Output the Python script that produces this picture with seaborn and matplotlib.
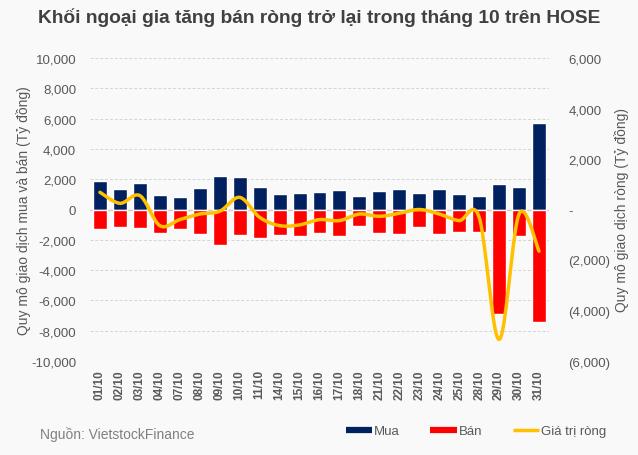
import numpy as np
import pandas as pd
import matplotlib
matplotlib.use("Agg")
import matplotlib.pyplot as plt
from matplotlib.lines import Line2D
from matplotlib.ticker import FuncFormatter
import seaborn as sns

# ngay giao dich thang 10
dates = ["01/10", "02/10", "03/10", "04/10", "07/10", "08/10", "09/10", "10/10",
         "11/10", "14/10", "15/10", "16/10", "17/10", "18/10", "21/10", "22/10",
         "23/10", "24/10", "25/10", "28/10", "29/10", "30/10", "31/10"]

# mua (ty dong)
buy = [1900, 1350, 1750, 960, 830, 1420, 2210, 2150, 1490, 1020, 1090, 1150,
       1290, 890, 1220, 1350, 1090, 1350, 1020, 890, 1680, 1490, 5710]

# ban (ty dong)
sell = [-1270, -1130, -1200, -1530, -1270, -1600, -2320, -1660, -1860, -1660, -1730, -1530,
        -1730, -1070, -1530, -1600, -1130, -1600, -1460, -1460, -6880, -1730, -7400]

# gia tri rong (truc phai)
net = [680, 245, 550, -640, -400, -180, -70, 480, -310, -640, -610, -400,
       -440, -180, -270, -150, 0, -180, -440, -310, -5150, -180, -1650]

NAVY = "#002060"
RED = "#ff0000"
GOLD = "#ffc000"
GREY = "#595959"
BG = "#f9f9f9"


def smooth(xs, ys, n=20):
    # catmull-rom, chi de ve duong cong giong excel
    xs = np.asarray(xs, float)
    ys = np.asarray(ys, float)
    px = np.concatenate([[xs[0]], xs, [xs[-1]]])
    py = np.concatenate([[ys[0]], ys, [ys[-1]]])
    ox, oy = [], []
    t = np.linspace(0, 1, n, endpoint=False)
    for i in range(1, len(px) - 2):
        for p, o in ((px, ox), (py, oy)):
            p0, p1, p2, p3 = p[i - 1], p[i], p[i + 1], p[i + 2]
            o.extend(0.5 * ((2 * p1) + (-p0 + p2) * t
                            + (2 * p0 - 5 * p1 + 4 * p2 - p3) * t ** 2
                            + (-p0 + 3 * p1 - 3 * p2 + p3) * t ** 3))
    ox.append(xs[-1])
    oy.append(ys[-1])
    return np.array(ox), np.array(oy)


sns.set_theme(style="white")
plt.rcParams["font.family"] = ["Liberation Sans", "DejaVu Sans"]

df = pd.DataFrame({"date": dates, "buy": buy, "sell": sell, "net": net})

fig = plt.figure(figsize=(6.38, 4.56), dpi=100, facecolor=BG)
ax = fig.add_axes([90 / 638, 1 - 362 / 456, 459 / 638, 303 / 456])
ax.set_facecolor(BG)

sns.barplot(data=df, x="date", y="buy", color=NAVY, width=0.7, saturation=1, ax=ax, zorder=2)
sns.barplot(data=df, x="date", y="sell", color=RED, width=0.7, saturation=1, ax=ax, zorder=2)

ax.set_ylim(-10000, 10000)
ax.set_yticks(range(-10000, 10001, 2000))
ax.yaxis.set_major_formatter(FuncFormatter(lambda v, p: f"{v:,.0f}"))
ax.set_xlim(-0.5, len(dates) - 0.5)
ax.grid(axis="y", color="#d4d4d4", linestyle=(0, (3, 2)), linewidth=0.7, zorder=0)
ax.axhline(0, color="#d0d0d0", linewidth=1, zorder=1)
for s in ax.spines.values():
    s.set_visible(False)
ax.tick_params(axis="y", length=0, labelsize=9.5, labelcolor=GREY, pad=10)
ax.tick_params(axis="x", length=0, labelsize=8.5, labelcolor=GREY, pad=6)
plt.setp(ax.get_xticklabels(), rotation=90, fontweight="bold")
ax.set_xlabel("")
ax.set_ylabel("Quy mô giao dịch mua và bán (Tỷ đồng)", fontsize=10, color=GREY, labelpad=0)

ax2 = ax.twinx()
sx, sy = smooth(np.arange(len(dates)), df["net"])
ax2.plot(sx, sy, color=GOLD, linewidth=2.5, zorder=3, solid_capstyle="round")
ax2.set_ylim(-6000, 6000)
ax2.set_yticks(range(-6000, 6001, 2000))
ax2.yaxis.set_major_formatter(FuncFormatter(
    lambda v, p: "-" if v == 0 else (f"({abs(v):,.0f})" if v < 0 else f"{v:,.0f}")))
for s in ax2.spines.values():
    s.set_visible(False)
ax2.tick_params(axis="y", length=0, labelsize=9.5, labelcolor=GREY, pad=14)
ax2.set_ylabel("Quy mô giao dịch ròng (Tỷ đồng)", fontsize=10, color=GREY, labelpad=3)

fig.text(0.5, 1 - 18 / 456, "Khối ngoại gia tăng bán ròng trở lại trong tháng 10 trên HOSE",
         ha="center", va="center", fontsize=13.8, fontweight="bold", color="#404040")
fig.text(40 / 638, 1 - 435 / 456, "Nguồn: VietstockFinance", ha="left", va="center",
         fontsize=10, color="#808080")

handles = [Line2D([], [], color=NAVY, linewidth=4.5, solid_capstyle="butt"),
           Line2D([], [], color=RED, linewidth=4.5, solid_capstyle="butt"),
           Line2D([], [], color=GOLD, linewidth=2.5, solid_capstyle="butt")]
fig.legend(handles, ["Mua", "Bán", "Giá trị ròng"], loc="center", ncol=3,
           bbox_to_anchor=(476 / 638, 1 - 432 / 456), frameon=False, fontsize=9.5,
           labelcolor=GREY, handlelength=2.0, handletextpad=0.15, columnspacing=2.3)

fig.savefig("out.png", dpi=100, facecolor=BG)
